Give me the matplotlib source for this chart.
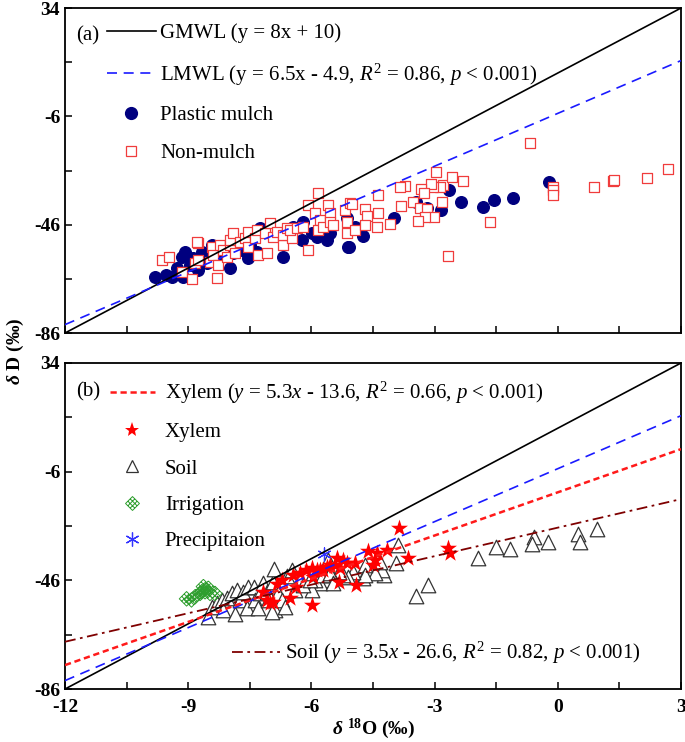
import numpy as np
import matplotlib
matplotlib.use("Agg")
import matplotlib.pyplot as plt
from matplotlib.lines import Line2D
from matplotlib.path import Path

plt.rcParams['font.family'] = ['Liberation Serif', 'DejaVu Serif']
plt.rcParams['mathtext.fontset'] = 'custom'
plt.rcParams['mathtext.rm'] = 'Liberation Serif'
plt.rcParams['mathtext.it'] = 'Liberation Serif:italic'
plt.rcParams['mathtext.bf'] = 'Liberation Serif:bold'
plt.rcParams['mathtext.bfit'] = 'Liberation Serif:italic:bold'
plt.rcParams['axes.unicode_minus'] = False

# ---- data (a) ----
plastic_x = [-9.81, -9.54, -9.40, -9.28, -9.12, -9.16, -9.08, -8.96, -8.88, -8.79,
             -8.75, -8.67, -8.59, -8.43, -8.39, -8.55, -8.20, -7.98, -7.90, -7.68,
             -7.54, -7.50, -7.33, -7.24, -6.85, -6.68, -6.44, -6.24, -6.20, -5.99,
             -5.87, -5.63, -5.55, -5.10, -5.14, -5.08, -4.94, -4.74, -3.98, -3.45,
             -3.18, -2.85, -2.64, -2.35, -1.81, -1.55, -1.10, -0.21]
plastic_y = [-65.2, -64.6, -65.2, -62.1, -65.2, -57.8, -56.0, -60.9, -58.4, -59.7,
             -62.7, -56.0, -57.8, -53.5, -56.0, -60.3, -57.0, -62.1, -56.6, -55.2,
             -58.4, -53.5, -56.0, -47.2, -49.8, -57.8, -46.7, -51.7, -44.9, -49.2,
             -50.4, -51.7, -49.2, -54.1, -43.6, -54.1, -46.7, -50.2, -43.7, -37.5,
             -40.0, -40.6, -33.2, -37.5, -39.4, -36.9, -36.0, -30.1]

nonmulch_x = [-9.65, -9.46, -9.16, -8.91, -8.83, -8.75, -8.75, -8.79, -8.47, -8.43,
              -8.39, -8.27, -8.29, -8.23, -8.15, -8.06, -7.98, -7.98, -7.90, -7.86,
              -7.74, -7.62, -7.54, -7.54, -7.37, -7.29, -7.33, -7.13, -7.01, -7.09,
              -6.93, -6.85, -6.68, -6.68, -6.60, -6.48, -6.52, -6.36, -6.20, -6.08,
              -6.08, -5.91, -5.83, -5.79, -5.83, -5.71, -5.59, -5.55, -5.55, -5.47,
              -5.18, -5.14, -5.14, -5.06, -4.94, -5.02, -4.69, -4.65, -4.69, -4.40,
              -4.39, -4.39, -4.09, -3.83, -3.72, -3.84, -3.52, -3.36, -3.19, -3.01,
              -3.23, -3.40, -2.82, -2.79, -2.87, -3.03, -3.10, -3.33, -3.25, -2.97,
              -2.58, -2.32, -2.67, -1.65, -0.68, -0.11, -0.11, -0.11, 0.88, 1.34,
              1.38, 2.18, 2.69]
nonmulch_y = [-59.0, -58.0, -63.4, -66.1, -60.3, -59.0, -52.9, -52.3, -59.7, -54.1,
              -57.2, -60.9, -65.8, -53.5, -55.3, -57.8, -53.5, -51.7, -49.2, -56.6,
              -52.3, -51.0, -54.1, -48.6, -51.0, -57.2, -48.0, -49.2, -45.5, -56.6,
              -50.4, -48.6, -53.5, -49.8, -47.3, -51.0, -47.9, -47.3, -46.7, -55.3,
              -38.7, -41.8, -34.4, -44.3, -48.0, -46.7, -38.7, -41.8, -44.9, -46.1,
              -40.6, -44.9, -49.2, -38.1, -47.9, -38.4, -40.2, -42.8, -46.1, -46.7,
              -35.0, -41.6, -45.9, -39.1, -31.6, -32.0, -37.7, -39.9, -40.2, -43.3,
              -43.3, -44.5, -37.5, -31.3, -32.2, -32.2, -31.0, -32.9, -34.4, -26.7,
              -28.4, -29.9, -57.4, -45.1, -16.0, -32.2, -33.2, -35.0, -32.2, -29.8,
              -29.5, -28.6, -25.6]

# ---- data (b) ----
xylem_x = [-3.86, -3.66, -2.67, -2.63, -4.15, -4.41, -4.45, -4.49, -4.61, -4.94,
           -4.92, -5.14, -5.22, -5.30, -5.38, -5.43, -5.34, -5.55, -5.71, -5.87,
           -5.99, -5.99, -6.52, -6.93, -7.01, -7.09, -6.44, -6.28, -6.12, -5.95,
           -5.79, -5.63, -7.17, -6.37, -6.71, -6.85]
xylem_y = [-26.9, -37.9, -34.2, -36.0, -34.8, -35.8, -38.5, -40.4, -35.1, -39.7,
           -47.7, -39.7, -38.5, -41.6, -37.9, -40.4, -46.5, -40.4, -42.2, -42.2,
           -41.6, -55.1, -52.6, -53.8, -54.5, -53.2, -44.0, -43.4, -42.2, -44.6,
           -42.2, -41.0, -50.2, -48.5, -46.0, -47.2]

soil_x = [0.96, 0.48, 0.53, -0.25, -0.59, -0.64, -1.17, -1.51, -1.95, -3.16,
          -3.46, -3.89, -3.94, -4.23, -4.28, -4.33, -4.45, -4.69, -4.74, -4.69,
          -4.98, -5.10, -5.22, -5.34, -5.47, -5.63, -5.67, -5.79, -5.91, -5.99,
          -5.59, -8.51, -8.43, -8.31, -8.18, -8.15, -8.06, -7.94, -7.82, -7.74,
          -7.66, -7.58, -7.54, -7.41, -7.37, -7.29, -7.25, -7.17, -7.09, -7.05,
          -6.93, -6.89, -6.81, -6.72, -6.64, -6.60, -6.48, -6.40, -6.28, -6.20,
          -6.03, -5.95, -5.71, -5.55, -5.47, -6.90, -7.87, -6.95]
soil_y = [-27.2, -28.8, -31.8, -31.8, -30.0, -32.5, -34.3, -33.9, -37.6, -47.8,
          -51.9, -33.1, -39.8, -44.2, -42.3, -39.2, -43.4, -40.4, -45.2, -44.0,
          -42.8, -44.7, -44.0, -42.8, -45.2, -45.9, -44.0, -47.1, -45.9, -49.6,
          -38.5, -59.4, -55.7, -54.5, -53.2, -56.9, -52.6, -50.8, -49.6, -53.2,
          -50.2, -56.3, -48.3, -48.3, -53.2, -56.3, -50.8, -47.1, -50.2, -53.2,
          -46.5, -56.9, -50.8, -53.2, -55.7, -44.3, -42.3, -49.6, -45.9, -47.7,
          -45.9, -43.4, -44.0, -43.4, -47.1, -42.0, -58.3, -57.5]

irrig_x = [-8.92, -8.83, -8.71, -8.59, -8.51, -8.63, -8.47, -8.35, -8.67, -9.04]
irrig_y = [-53.2, -52.0, -50.8, -50.2, -48.9, -48.3, -50.8, -50.8, -50.2, -52.8]

precip_x = [-5.70]
precip_y = [-36.2]

# fitted lines: (slope, intercept)
gmwl = (8.0, 10.0)
lmwl = (6.5, -4.9)
xylem_fit = (5.3, -13.6)
soil_fit = (3.5, -26.6)

xline = np.array([-12, 3])

FS = 15


def hatch_diamond():
    verts = [(0, 1), (1, 0), (0, -1), (-1, 0), (0, 1)]
    codes = [Path.MOVETO] + [Path.LINETO] * 4
    for t in (1 / 3, 2 / 3):
        verts += [(-1 + t, -t), (t, 1 - t), (-1 + t, t), (t, t - 1)]
        codes += [Path.MOVETO, Path.LINETO, Path.MOVETO, Path.LINETO]
    return Path(verts, codes)


irr_marker = hatch_diamond()

fig = plt.figure(figsize=(6.85, 7.42), dpi=100)
ax1 = fig.add_axes([0.0949, 0.5512, 0.8993, 0.438])
ax2 = fig.add_axes([0.0949, 0.0714, 0.8993, 0.4394])

for ax in (ax1, ax2):
    ax.set_xlim(-12, 3)
    ax.set_ylim(-86, 34)
    ax.set_xticks([-12, -9, -6, -3, 0, 3])
    ax.set_xticks(np.arange(-10.5, 3, 3), minor=True)
    ax.set_yticks([-86, -46, -6, 34])
    ax.set_yticks([-66, -26, 14], minor=True)
    ax.tick_params(which='both', direction='in', length=5, width=1.1,
                   top=False, right=False, labelsize=14)
    ax.tick_params(axis='x', pad=7)
    for lab in ax.get_yticklabels() + ax.get_xticklabels():
        lab.set_fontweight('bold')
    for s in ax.spines.values():
        s.set_linewidth(1.3)
    ax.plot(xline, gmwl[0] * xline + gmwl[1], color='black', lw=1.2, zorder=5)
    ax.plot(xline, lmwl[0] * xline + lmwl[1], color='#1a1aff', lw=1.2,
            dashes=(6, 4), zorder=5)

ax1.tick_params(labelbottom=False)

# panel (a)
ax1.scatter(plastic_x, plastic_y, s=70, color='#00007f', zorder=3)
ax1.scatter(nonmulch_x, nonmulch_y, s=55, marker='s', facecolor='white',
            edgecolor='#f03c3c', linewidth=0.9, zorder=4)

h_a = [Line2D([], [], color='black', lw=1.2),
       Line2D([], [], color='#1a1aff', lw=1.2, dashes=(6, 4)),
       Line2D([], [], ls='none', marker='o', ms=8.5, color='#00007f'),
       Line2D([], [], ls='none', marker='s', ms=7, mfc='white',
              mec='#f03c3c', mew=0.9)]
l_a = ['GMWL (y = 8x + 10)',
       r'LMWL (y = 6.5x - 4.9, $R^2$ = 0.86, $p$ < 0.001)',
       'Plastic mulch', 'Non-mulch']
ax1.legend(h_a, l_a, loc='upper left', bbox_to_anchor=(0.068, 0.952),
           frameon=False, fontsize=FS, handlelength=2.35, handletextpad=0.2,
           borderpad=0, borderaxespad=0, labelspacing=0.87)
ax1.text(0.018, 0.915, '(a)', transform=ax1.transAxes, fontsize=FS,
         va='center')

# panel (b)
ax2.scatter(soil_x, soil_y, s=110, marker='^', facecolor='white',
            edgecolor='#333333', linewidth=0.9, zorder=3)
ax2.scatter(irrig_x, irrig_y, s=110, marker=irr_marker, facecolor='none',
            edgecolor='#2e9e2e', linewidth=0.7, zorder=3)
ax2.scatter(xylem_x, xylem_y, s=165, marker='*', color='#ff0000',
            linewidth=0, zorder=4)
ax2.scatter(precip_x, precip_y, s=90, marker=(6, 2, 0), color='#3333ff',
            linewidth=0.9, zorder=4)
ax2.plot(xline, xylem_fit[0] * xline + xylem_fit[1], color='#ff1a1a', lw=1.8,
         dashes=(2.5, 1.5), zorder=5)
ax2.plot(xline, soil_fit[0] * xline + soil_fit[1], color='#7f0000', lw=1.3,
         dashes=(6, 2.5, 1.5, 2.5), zorder=5)

h_b = [Line2D([], [], color='#ff1a1a', lw=1.8, dashes=(2.5, 1.5)),
       Line2D([], [], ls='none', marker='*', ms=11, color='#ff0000', mew=0),
       Line2D([], [], ls='none', marker='^', ms=9, mfc='white',
              mec='#333333', mew=0.9),
       Line2D([], [], ls='none', marker=irr_marker, ms=10, mfc='none',
              mec='#2e9e2e', mew=0.7),
       Line2D([], [], ls='none', marker=(6, 2, 0), ms=10, color='#3333ff',
              mew=0.9)]
l_b = [r'Xylem ($y$ = 5.3$x$ - 13.6, $R^2$ = 0.66, $p$ < 0.001)',
       'Xylem', 'Soil', 'Irrigation', 'Precipitaion']
leg_b = ax2.legend(h_b, l_b, loc='upper left', bbox_to_anchor=(0.073, 0.948),
                   frameon=False, fontsize=FS, handlelength=2.15,
                   handletextpad=0.48, borderpad=0, borderaxespad=0,
                   labelspacing=0.8)
ax2.text(0.018, 0.912, '(b)', transform=ax2.transAxes, fontsize=FS,
         va='center')

leg_soil = Line2D([], [], color='#7f0000', lw=1.3, dashes=(6, 2.5, 1.5, 2.5))
ax2.add_artist(leg_b)
ax2.legend([leg_soil], [r'Soil ($y$ = 3.5$x$ - 26.6, $R^2$ = 0.82, $p$ < 0.001)'],
           loc='lower left', bbox_to_anchor=(0.271, 0.07), frameon=False,
           fontsize=FS, handlelength=2.3, handletextpad=0.25,
           borderpad=0, borderaxespad=0)

ax2.set_xlabel(r'$\mathbfit{\delta}$ $^{\mathbf{18}}$O (‰)', fontsize=14,
               fontweight='bold', labelpad=1)
fig.text(0.022, 0.527, r'$\mathbfit{\delta}$ D (‰)', rotation=90, fontsize=14,
         fontweight='bold', ha='center', va='center')

fig.savefig('out.png', dpi=100)
